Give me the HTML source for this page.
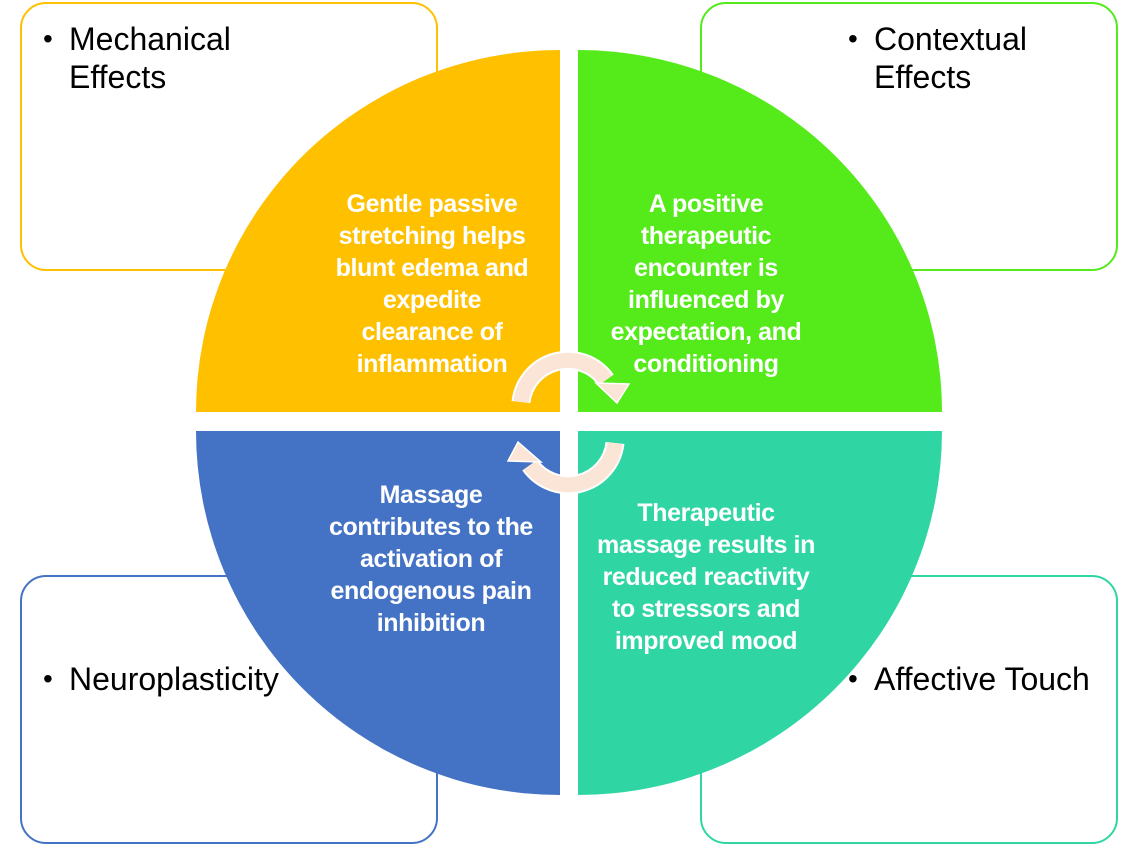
<!DOCTYPE html>
<html><head><style>
body{margin:0;background:#fff;width:1138px;height:845px;overflow:hidden;position:relative;font-family:"Liberation Sans",sans-serif}
.box{position:absolute;width:418px;height:269px;border:2px solid;border-radius:26px;box-sizing:border-box;background:#fff}
.lbl{position:absolute;font-size:32px;color:#000;line-height:38px}
.lbl:before{content:"•";position:absolute;left:-26px;font-size:28px}
.t{position:absolute;color:#fff;font-weight:bold;font-size:25px;line-height:32px;text-align:center;width:300px;white-space:nowrap;letter-spacing:-0.4px}
</style></head><body>
<div class="box" style="left:20px;top:2px;border-color:#FFC000"></div>
<div class="box" style="left:700px;top:2px;border-color:#55EA1A"></div>
<div class="box" style="left:20px;top:575px;border-color:#4472C4"></div>
<div class="box" style="left:700px;top:575px;border-color:#2FD6A3"></div>
<div class="lbl" style="left:69px;top:20px">Mechanical<br>Effects</div>
<div class="lbl" style="left:874px;top:20px">Contextual<br>Effects</div>
<div class="lbl" style="left:69px;top:660px">Neuroplasticity</div>
<div class="lbl" style="left:874px;top:660px">Affective Touch</div>
<svg width="1138" height="845" style="position:absolute;left:0;top:0">
<path d="M560 412 L196 412 A364 362 0 0 1 560 50 Z" fill="#FFC000"/>
<path d="M578 412 L578 50 A364 362 0 0 1 942 412 Z" fill="#55EA1A"/>
<path d="M560 431 L560 795 A364 364 0 0 1 196 431 Z" fill="#4472C4"/>
<path d="M578 431 L942 431 A364 364 0 0 1 578 795 Z" fill="#2FD6A3"/>
<g fill="none">
<path d="M521 402 A47 47 0 0 1 606 380" stroke="#fff" stroke-width="19"/>
<path d="M615 443 A47 47 0 0 1 530 465" stroke="#fff" stroke-width="19"/>
<path d="M521 402 A47 47 0 0 1 606 380" stroke="#FBE5D6" stroke-width="15"/>
<path d="M615 443 A47 47 0 0 1 530 465" stroke="#FBE5D6" stroke-width="15"/>
</g>
<polygon points="596,383 629,384 617,403" fill="#FBE5D6" stroke="#fff" stroke-width="1.5"/>
<polygon points="541,462 508,461 518,442" fill="#FBE5D6" stroke="#fff" stroke-width="1.5"/>
</svg>
<div class="t" style="left:282px;top:188px">Gentle passive<br>stretching helps<br>blunt edema and<br>expedite<br>clearance of<br>inflammation</div>
<div class="t" style="left:556px;top:188px">A positive<br>therapeutic<br>encounter is<br>influenced by<br>expectation, and<br>conditioning</div>
<div class="t" style="left:281px;top:479px">Massage<br>contributes to the<br>activation of<br>endogenous pain<br>inhibition</div>
<div class="t" style="left:556px;top:497px">Therapeutic<br>massage results in<br>reduced reactivity<br>to stressors and<br>improved mood</div>
</body></html>
